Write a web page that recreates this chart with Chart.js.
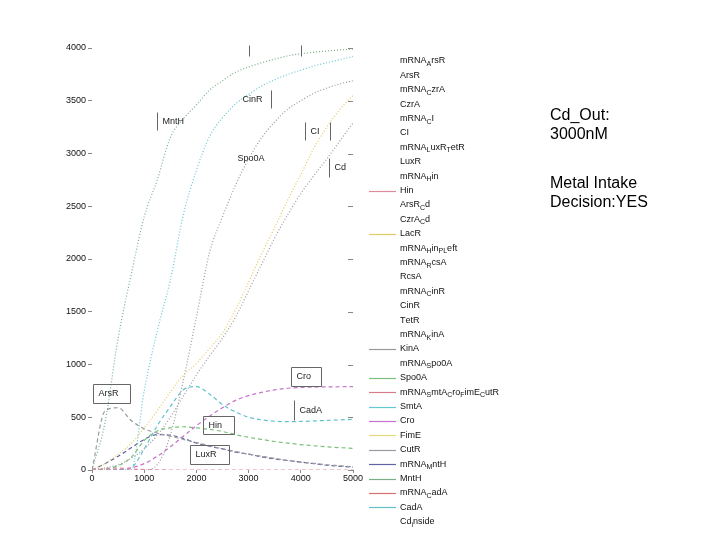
<!DOCTYPE html>
<html>
<head>
<meta charset="utf-8">
<script src="https://cdn.jsdelivr.net/npm/chart.js@4.4.1/dist/chart.umd.min.js"></script>
<style>
  body { margin: 0; background: #fff; }
  #wrap { position: relative; width: 720px; height: 540px; }
  .note { position: absolute; left: 550px; font: 16px "Liberation Sans", Arial, sans-serif; line-height: 19px; color: #000; }
</style>
</head>
<body>
<div id="wrap">
  <canvas id="simChart" width="720" height="540"></canvas>
  <div class="note" style="top:105px">Cd_Out:<br>3000nM</div>
  <div class="note" style="top:173px">Metal Intake<br>Decision:YES</div>
</div>
<script>
// datos (tiempo vs concentracion)
const time = [0, 250, 500, 750, 1000, 1250, 1500, 1750, 2000, 2250, 2500,
              2750, 3000, 3250, 3500, 3750, 4000, 4250, 4500, 4750, 5000];

const mntH     = [0, 450, 1250, 1850, 2400, 2750, 3150, 3330, 3460, 3600, 3690, 3770, 3820, 3860, 3895, 3925, 3945, 3960, 3972, 3982, 3990];
const smtA     = [0, 0, 0, 0, 750, 1320, 1800, 2420, 2840, 3160, 3340, 3470, 3560, 3640, 3700, 3750, 3790, 3830, 3860, 3890, 3920];
const kinA     = [0, 0, 0, 0, 0, 50, 330, 850, 1450, 2060, 2400, 2700, 2950, 3150, 3300, 3420, 3500, 3570, 3620, 3660, 3690];
const lacR     = [0, 60, 150, 250, 400, 560, 740, 900, 1010, 1150, 1300, 1520, 1780, 2050, 2300, 2560, 2800, 3050, 3250, 3420, 3550];
const cutR     = [0, 20, 50, 110, 200, 330, 500, 700, 900, 1080, 1250, 1450, 1700, 1950, 2200, 2420, 2620, 2790, 2950, 3120, 3290];
const arsR     = [0, 560, 590, 470, 390, 350, 320, 290, 260, 230, 200, 175, 150, 130, 110, 90, 75, 62, 50, 40, 30];
const mrnaMntH = [0, 60, 130, 210, 290, 335, 330, 300, 255, 225, 200, 170, 150, 125, 105, 90, 75, 60, 45, 35, 28];
const spo0A    = [0, 10, 40, 120, 280, 370, 400, 410, 400, 385, 365, 335, 310, 290, 270, 255, 240, 230, 220, 212, 205];
const cro      = [0, 0, 5, 20, 60, 130, 220, 320, 420, 510, 590, 660, 705, 735, 760, 775, 782, 786, 788, 789, 790];
const cadA     = [0, 0, 0, 20, 200, 420, 600, 760, 790, 720, 620, 550, 500, 475, 462, 458, 460, 465, 470, 475, 480];
const hin      = [0, 12, 18, 10, 4, 2, 0, 0, 0, 0, 0, 0, 0, 0, 0, 0, 0, 0, 0, 0, 0];

// nombres de la leyenda (en orden)
const nombres = ['mRNA_ArsR', 'ArsR', 'mRNA_CzrA', 'CzrA', 'mRNA_CI', 'CI', 'mRNA_LuxR_TetR',
  'LuxR', 'mRNA_Hin', 'Hin', 'ArsR_Cd', 'CzrA_Cd', 'LacR', 'mRNA_Hin_P_Left', 'mRNA_RcsA',
  'RcsA', 'mRNA_CinR', 'CinR', 'TetR', 'mRNA_KinA', 'KinA', 'mRNA_Spo0A', 'Spo0A',
  'mRNA_SmtA_Cro_FimE_CutR', 'SmtA', 'Cro', 'FimE', 'CutR', 'mRNA_MntH', 'MntH',
  'mRNA_CadA', 'CadA', 'Cd_inside'];

const series = {
  MntH: mntH, SmtA: smtA, KinA: kinA, LacR: lacR, CutR: cutR, ArsR: arsR,
  mRNA_MntH: mrnaMntH, Spo0A: spo0A, Cro: cro, CadA: cadA, Hin: hin
};

const colors = {
  ArsR: '#9a9a9a', Hin: '#dc8c9c', LacR: '#e2cc60', KinA: '#999999', Spo0A: '#7cc07c',
  mRNA_SmtA_Cro_FimE_CutR: '#d87a88', SmtA: '#66c6d2', Cro: '#c474cc', FimE: '#e6da78',
  CutR: '#9a9aa4', mRNA_MntH: '#6262a6', MntH: '#78b088', mRNA_CadA: '#d87070', CadA: '#62c2cc'
};
const sinMuestra = ['ArsR'];
const punteadas = ['MntH', 'SmtA', 'KinA', 'LacR', 'CutR'];

// etiquetas dentro del grafico (x, y en unidades de datos)
const etiquetas = [
  { text: 'ArsR',  x: 19,   y: 815,  w: 37, h: 19, sides: 'lrtb' },
  { text: 'Hin',   x: 2126, y: 512,  w: 31, h: 18, sides: 'lrtb' },
  { text: 'LuxR',  x: 1877, y: 237,  w: 39, h: 19, sides: 'lrtb' },
  { text: 'Cro',   x: 3812, y: 976,  w: 30, h: 19, sides: 'lrtb' },
  { text: 'CadA',  x: 3870, y: 664,  w: 40, h: 20, sides: 'l' },
  { text: 'MntH',  x: 1245, y: 3393, w: 28, h: 18, sides: 'l' },
  { text: 'CinR',  x: 2778, y: 3602, w: 34, h: 18, sides: 'r' },
  { text: 'CI',    x: 4080, y: 3299, w: 25, h: 18, sides: 'lr' },
  { text: 'Cd',    x: 4540, y: 2957, w: 20, h: 19, sides: 'l' },
  { text: 'Spo0A', x: 2682, y: 3043, w: 34, h: 18, sides: '' },
  { text: '',      x: 3008, y: 4028, w: 10, h: 11, sides: 'l' },
  { text: '',      x: 4004, y: 4028, w: 10, h: 11, sides: 'l' }
];

const FONT = '"Liberation Sans", Arial, sans-serif';

// texto estilo TeX: "_" pone la siguiente letra como subindice
function texto(ctx, str, x, y, size) {
  for (let i = 0; i < str.length; i++) {
    if (str[i] === '_' && i + 1 < str.length) {
      ctx.font = (size - 2) + 'px ' + FONT;
      ctx.fillText(str[i + 1], x, y + 3);
      x += ctx.measureText(str[i + 1]).width;
      i++;
    } else {
      ctx.font = size + 'px ' + FONT;
      ctx.fillText(str[i], x, y);
      x += ctx.measureText(str[i]).width;
    }
  }
}

const extras = {
  id: 'extras',
  afterDraw(chart) {
    const ctx = chart.ctx;
    const xs = chart.scales.x, ys = chart.scales.y;
    const area = chart.chartArea;
    ctx.save();
    ctx.setLineDash([]);

    // marcas del lado derecho
    ctx.strokeStyle = '#888';
    ctx.lineWidth = 1;
    ys.ticks.forEach(t => {
      const py = Math.round(ys.getPixelForValue(t.value)) + 0.5;
      ctx.beginPath();
      ctx.moveTo(area.right - 5, py);
      ctx.lineTo(area.right, py);
      ctx.stroke();
    });

    // etiquetas con caja
    ctx.textBaseline = 'middle';
    etiquetas.forEach(e => {
      const x0 = Math.round(xs.getPixelForValue(e.x)) + 0.5;
      const y0 = Math.round(ys.getPixelForValue(e.y)) + 0.5;
      ctx.strokeStyle = '#666';
      ctx.beginPath();
      if (e.sides.includes('l')) { ctx.moveTo(x0, y0); ctx.lineTo(x0, y0 + e.h); }
      if (e.sides.includes('r')) { ctx.moveTo(x0 + e.w, y0); ctx.lineTo(x0 + e.w, y0 + e.h); }
      if (e.sides.includes('t')) { ctx.moveTo(x0, y0); ctx.lineTo(x0 + e.w, y0); }
      if (e.sides.includes('b')) { ctx.moveTo(x0, y0 + e.h); ctx.lineTo(x0 + e.w, y0 + e.h); }
      ctx.stroke();
      ctx.fillStyle = '#222';
      ctx.font = '9px ' + FONT;
      ctx.fillText(e.text, x0 + 5, y0 + e.h / 2);
    });

    // leyenda
    chart.data.datasets.forEach((ds, i) => {
      const py = 61 + i * 14.4;
      if (colors[ds.label] && !ds.hideSample) {
        ctx.strokeStyle = colors[ds.label];
        ctx.lineWidth = 1.2;
        ctx.beginPath();
        ctx.moveTo(369, Math.round(py) + 0.5);
        ctx.lineTo(396, Math.round(py) + 0.5);
        ctx.stroke();
      }
      ctx.fillStyle = '#111';
      texto(ctx, ds.label, 400, py, 9);
    });
    ctx.restore();
  }
};

const datasets = nombres.map(n => {
  const vals = series[n];
  return {
    label: n,
    data: vals ? time.map((t, i) => ({ x: t, y: vals[i] })) : [],
    borderColor: colors[n] || '#ffffff',
    borderWidth: 1.2,
    borderDash: punteadas.includes(n) ? [1, 2] : [4, 3],
    pointRadius: 0,
    fill: false,
    cubicInterpolationMode: 'monotone',
    hideSample: sinMuestra.includes(n)
  };
});

const tickFont = { family: FONT, size: 9 };

new Chart(document.querySelector('#simChart'), {
  type: 'line',
  data: { datasets: datasets },
  options: {
    responsive: false,
    animation: false,
    layout: { padding: { top: 48, right: 367, bottom: 50, left: 0 } },
    plugins: { legend: { display: false }, tooltip: { enabled: false } },
    scales: {
      x: {
        type: 'linear', min: 0, max: 5000,
        ticks: { stepSize: 1000, color: '#111', font: tickFont, padding: 0, maxRotation: 0, callback: v => String(v) },
        grid: { drawOnChartArea: false, tickLength: 3, tickColor: '#888' },
        border: { display: false },
        afterFit(scale) { scale.height = 20; }
      },
      y: {
        min: 0, max: 4000,
        ticks: { stepSize: 500, color: '#111', font: tickFont, padding: 2, callback: v => String(v) },
        grid: { drawOnChartArea: false, tickLength: 4, tickColor: '#888' },
        border: { display: false },
        afterFit(scale) { scale.width = 92; }
      }
    }
  },
  plugins: [extras]
});
</script>
</body>
</html>
